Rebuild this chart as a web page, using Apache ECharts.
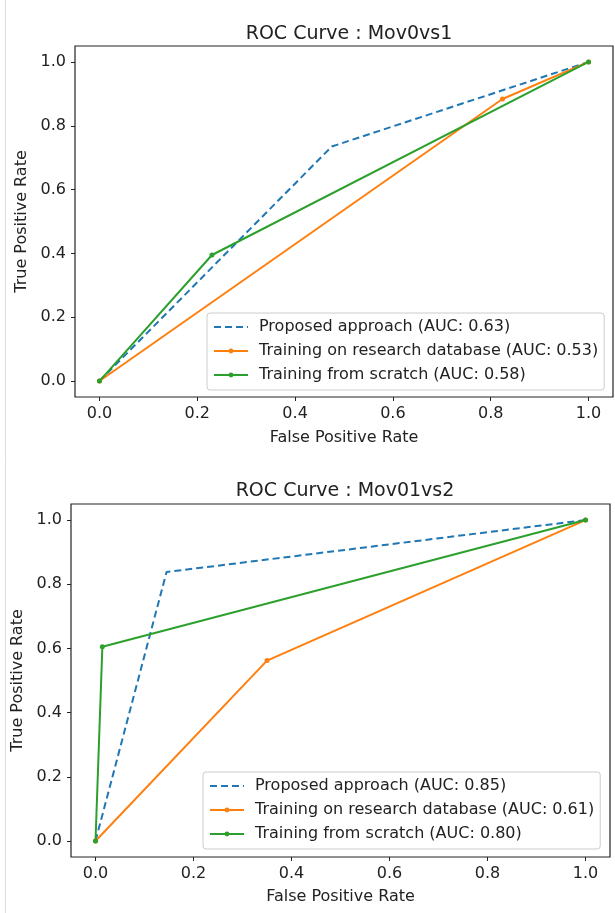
<!DOCTYPE html>
<html>
<head>
<meta charset="utf-8">
<script src="https://cdn.jsdelivr.net/npm/echarts@6/dist/echarts.min.js"></script>
<style>
  html, body { margin: 0; padding: 0; background: #fff; }
  #chart { width: 615px; height: 913px; }
</style>
</head>
<body>
<div id="chart"></div>
<script>
// 刻度
const tickValues = [0, 0.2, 0.4, 0.6, 0.8, 1.0];

// 图1 : Mov0vs1
const titleTop = 'ROC Curve : Mov0vs1';
const namesTop = [
  'Proposed approach (AUC: 0.63)',
  'Training on research database (AUC: 0.53)',
  'Training from scratch (AUC: 0.58)'
];
const proposedTop = [[0, 0], [0.475, 0.735], [1, 1]];
const researchTop = [[0, 0], [0.824, 0.884], [1, 1]];
const scratchTop  = [[0, 0], [0.23, 0.395], [1, 1]];

// 图2 : Mov01vs2
const titleBottom = 'ROC Curve : Mov01vs2';
const namesBottom = [
  'Proposed approach (AUC: 0.85)',
  'Training on research database (AUC: 0.61)',
  'Training from scratch (AUC: 0.80)'
];
const proposedBottom = [[0, 0], [0.145, 0.838], [1, 1]];
const researchBottom = [[0, 0], [0.35, 0.562], [1, 1]];
const scratchBottom  = [[0, 0], [0.014, 0.605], [1, 1]];

const BLUE = '#1f77b4', ORANGE = '#ff7f0e', GREEN = '#2ca02c';
const TXT = '#222';
const FONT = 'DejaVu Sans';

const chart = echarts.init(document.getElementById('chart'), null, { renderer: 'canvas' });

function axis(idx, name, gap) {
  return {
    type: 'value',
    gridIndex: idx,
    min: -0.05,
    max: 1.05,
    name: name,
    nameLocation: 'middle',
    nameGap: gap,
    nameTextStyle: { color: TXT, fontSize: 16, fontFamily: FONT },
    axisLine: { show: false, onZero: false },
    splitLine: { show: false },
    axisTick: { show: true, inside: false, length: 4, customValues: tickValues, lineStyle: { color: TXT, width: 1 } },
    axisLabel: {
      customValues: tickValues,
      color: TXT, fontSize: 16, fontFamily: FONT,
      margin: 9,
      formatter: v => v.toFixed(1)
    }
  };
}

function rocSeries(idx, names, prop, res, scr) {
  return [
    {
      name: names[0], type: 'line', xAxisIndex: idx, yAxisIndex: idx,
      data: prop, symbol: 'none',
      lineStyle: { color: BLUE, width: 2, type: [7, 4] },
      itemStyle: { color: BLUE }
    },
    {
      name: names[1], type: 'line', xAxisIndex: idx, yAxisIndex: idx,
      data: res, symbol: 'circle', symbolSize: 5,
      lineStyle: { color: ORANGE, width: 2 },
      itemStyle: { color: ORANGE }
    },
    {
      name: names[2], type: 'line', xAxisIndex: idx, yAxisIndex: idx,
      data: scr, symbol: 'circle', symbolSize: 5,
      lineStyle: { color: GREEN, width: 2 },
      itemStyle: { color: GREEN }
    }
  ];
}

function legend(names, left, top) {
  return {
    // 虚线那一项不画圆点
    data: [
      { name: names[0], itemStyle: { color: 'rgba(0,0,0,0)', borderWidth: 0 } },
      names[1],
      names[2]
    ],
    orient: 'vertical',
    left: left, top: top,
    itemWidth: 34, itemHeight: 6, itemGap: 8,
    padding: [6, 6, 7, 6],
    backgroundColor: '#fff',
    borderColor: '#ccc', borderWidth: 1, borderRadius: 3,
    textStyle: { color: TXT, fontSize: 16, lineHeight: 16, fontFamily: FONT, padding: [0, 0, 0, 6] },
    selectedMode: false
  };
}

chart.setOption({
  animation: false,
  backgroundColor: '#fff',
  title: [
    { text: titleTop, left: 344, top: 20, textAlign: 'center',
      textStyle: { color: TXT, fontSize: 19, fontWeight: 'normal', fontFamily: FONT } },
    { text: titleBottom, left: 340, top: 477, textAlign: 'center',
      textStyle: { color: TXT, fontSize: 19, fontWeight: 'normal', fontFamily: FONT } }
  ],
  grid: [
    { left: 75, right: 2, top: 46, height: 351, show: true, borderColor: '#222', borderWidth: 1.2, backgroundColor: '#fff' },
    { left: 71, right: 5, top: 504, height: 353, show: true, borderColor: '#222', borderWidth: 1.2, backgroundColor: '#fff' }
  ],
  xAxis: [axis(0, 'False Positive Rate', 33), axis(1, 'False Positive Rate', 32)],
  yAxis: [axis(0, 'True Positive Rate', 43), axis(1, 'True Positive Rate', 44)],
  legend: [legend(namesTop, 207, 313), legend(namesBottom, 203, 772)],
  series: [
    ...rocSeries(0, namesTop, proposedTop, researchTop, scratchTop),
    ...rocSeries(1, namesBottom, proposedBottom, researchBottom, scratchBottom)
  ],
  graphic: [
    { type: 'line', shape: { x1: 5.5, y1: 0, x2: 5.5, y2: 913 }, style: { stroke: '#ddd', lineWidth: 1 }, silent: true }
  ]
});
</script>
</body>
</html>
